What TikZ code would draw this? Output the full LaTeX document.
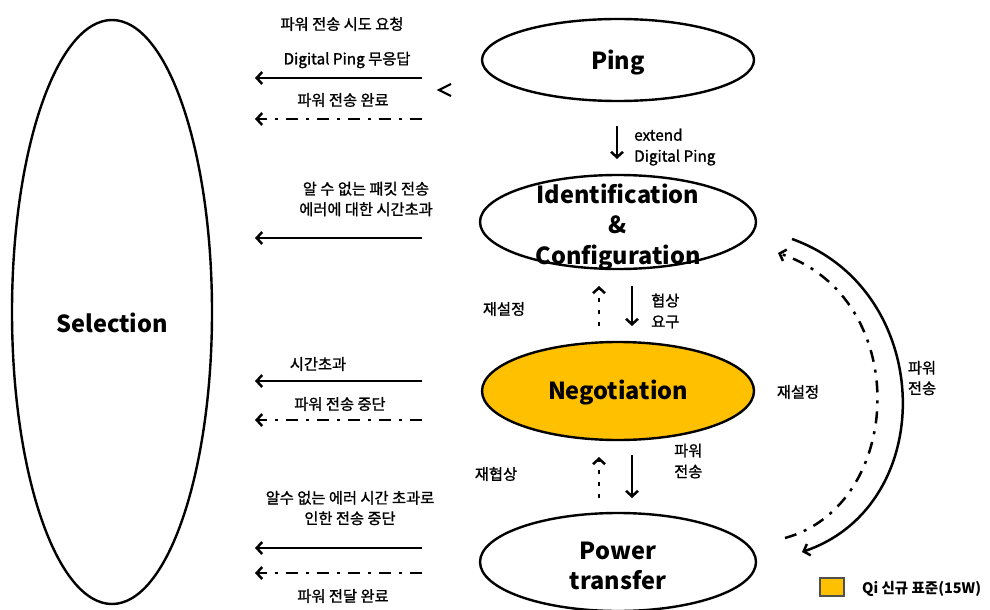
\documentclass[tikz,border=0pt]{standalone}
\usepackage{fontspec}
\setmainfont{Noto Sans CJK KR}
\newfontfamily\medfont[FakeBold=1.2]{Noto Sans CJK KR}
\usetikzlibrary{arrows.meta,shapes.geometric}
\begin{document}
\begin{tikzpicture}[x=1pt,y=-1pt,
  state/.style={draw=black,line width=2.4pt,ellipse,inner sep=0pt},
  big/.style={font=\fontsize{23.5}{30.5}\selectfont\bfseries,align=center,inner sep=0pt},
  lbl/.style={font=\fontsize{15.3}{20.5}\selectfont\medfont,align=center,inner sep=0pt},
  lbll/.style={font=\fontsize{15.3}{21}\selectfont\medfont,align=left,inner sep=0pt,anchor=west},
  solidarr/.style={line width=2.5pt,-{Straight Barb[length=5.5pt,width=12pt]}},
  dasharr/.style={line width=2.5pt,dash pattern=on 12pt off 8pt on 3pt off 8pt,-{Straight Barb[length=5.5pt,width=12pt]}},
  dotarr/.style={line width=2.5pt,dash pattern=on 4pt off 8pt,-{Straight Barb[length=5.5pt,width=12pt]}}
]
\useasboundingbox (0,0) rectangle (990,610);
\fill[white] (0,0) rectangle (990,610);

% states
\node[state,minimum width=200pt,minimum height=584pt] (sel) at (112,312) {};
\node[state,minimum width=272pt,minimum height=82pt] (ping) at (618,60) {};
\node[state,minimum width=276pt,minimum height=94pt] (idc) at (618,222) {};
\node[state,fill={rgb,255:red,255;green,192;blue,0},minimum width=272pt,minimum height=98pt] (neg) at (618,391) {};
\node[state,minimum width=276pt,minimum height=98pt] (pt) at (618,562) {};

\node[big] (tsel) at ([yshift=-11pt]sel.center) {Selection};
\node[big] (tping) at ([yshift=-3pt]ping.center) {Ping};
\node[big] (tidc) at ([yshift=-5pt]idc.center) {Identification\\\&\\Configuration};
\node[big] (tneg) at ([yshift=-2pt]neg.center) {Negotiation};
\node[big] (tpt) at ([yshift=-4pt]pt.center) {Power\\transfer};

% left arrows coordinates
\coordinate (a1s) at (422,78);  \coordinate (a1e) at (255,78);
\coordinate (a2s) at (422,119); \coordinate (a2e) at (255,119);
\coordinate (a3s) at (422,238); \coordinate (a3e) at (255,238);
\coordinate (a4s) at (422,381); \coordinate (a4e) at (255,381);
\coordinate (a5s) at (422,420); \coordinate (a5e) at (255,420);
\coordinate (a6s) at (422,548); \coordinate (a6e) at (255,548);
\coordinate (a7s) at (422,573); \coordinate (a7e) at (255,573);

\draw[solidarr] (a1s) -- (a1e);
\draw[dasharr] (a2s) -- (a2e);
\draw[solidarr] (a3s) -- (a3e);
\draw[solidarr] (a4s) -- (a4e);
\draw[dasharr] (a5s) -- (a5e);
\draw[solidarr] (a6s) -- (a6e);
\draw[dasharr] (a7s) -- (a7e);

% lone chevron
\coordinate (ch1) at (451,84); \coordinate (ch2) at (439,90); \coordinate (ch3) at (451,96);
\draw[line width=2.2pt,line join=miter] (ch1) -- (ch2) -- (ch3);

% left labels
\node[lbl] (l1) at (342,24) {파워 전송 시도 요청};
\node[lbl] (l2) at (347,60) {Digital Ping 무응답};
\node[lbl] (l3) at (343,100) {파워 전송 완료};
\node[lbl] (l4) at (366,199) {알 수 없는 패킷 전송\\에러에 대한 시간초과};
\node[lbl] (l5) at (318,364) {시간초과};
\node[lbl] (l6) at (340,404) {파워 전송 중단};
\node[lbl] (l7) at (350,508) {알수 없는 에러 시간 초과로\\인한 전송 중단};
\node[lbl] (l8) at (343,596) {파워 전달 완료};

% vertical arrows
\coordinate (v1s) at (617,126); \coordinate (v1e) at (617,159);
\draw[solidarr] (v1s) -- (v1e);
\node[lbll] (ext) at (634,147) {extend\\Digital Ping};

\coordinate (v2s) at (632,286); \coordinate (v2e) at (632,326);
\draw[solidarr] (v2s) -- (v2e);
\coordinate (v3s) at (599,326); \coordinate (v3e) at (599,286);
\draw[dotarr] (v3s) -- (v3e);
\node[lbl] (r1) at (504,309) {재설정};
\node[lbll] (r2) at (651,311) {협상\\요구};

\coordinate (v4s) at (632,455); \coordinate (v4e) at (632,498);
\draw[solidarr] (v4s) -- (v4e);
\coordinate (v5s) at (599,498); \coordinate (v5e) at (599,457);
\draw[dotarr] (v5s) -- (v5e);
\node[lbl] (r3) at (496,474) {재협상};
\node[lbll] (r4) at (674,461) {파워\\전송};

% right curved arrows
\coordinate (c1s) at (792,239); \coordinate (c1e) at (802,552);
\draw[solidarr] (c1s) .. controls (935,290) and (940,505) .. (c1e);
\coordinate (c2s) at (785,538); \coordinate (c2e) at (778,253);
\draw[dasharr] (c2s) .. controls (905,505) and (913,298) .. (c2e);
\node[lbl] (r5) at (798,392) {재설정};
\node[lbl] (r6) at (922,378) {파워\\전송};

% legend
\node[draw={rgb,255:red,80;green,80;blue,80},line width=2pt,fill={rgb,255:red,255;green,192;blue,0},minimum width=24pt,minimum height=18pt,inner sep=0pt] (leg) at (832,587) {};
\node[font=\fontsize{14.5}{16}\selectfont\bfseries,anchor=west,inner sep=0pt] (legt) at (862,589) {Qi 신규 표준(15W)};
\end{tikzpicture}
\end{document}
